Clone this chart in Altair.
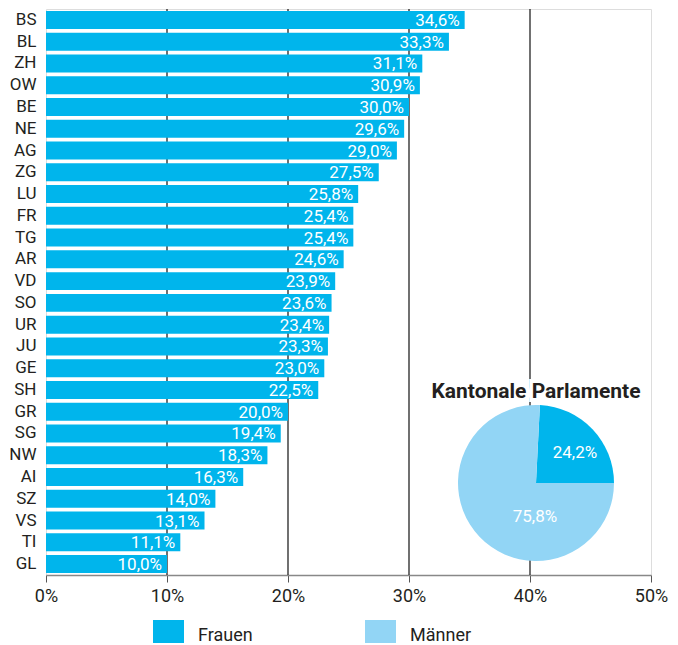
import math
import altair as alt
import pandas as pd

cantons = ["BS", "BL", "ZH", "OW", "BE", "NE", "AG", "ZG", "LU", "FR", "TG", "AR", "VD",
           "SO", "UR", "JU", "GE", "SH", "GR", "SG", "NW", "AI", "SZ", "VS", "TI", "GL"]
women_share = [34.6, 33.3, 31.1, 30.9, 30.0, 29.6, 29.0, 27.5, 25.8, 25.4, 25.4, 24.6, 23.9,
               23.6, 23.4, 23.3, 23.0, 22.5, 20.0, 19.4, 18.3, 16.3, 14.0, 13.1, 11.1, 10.0]
groups = ["Frauen", "Männer"]
pie_values = [24.2, 75.8]
x_ticks = [0, 10, 20, 30, 40, 50]
grid_ticks = [10, 20, 30, 40]
pie_title = "Kantonale Parlamente"

FONT = "Roboto"
DARK = "#00b5ec"
LIGHT = "#92d5f5"
INK = "#231f20"

bars_df = pd.DataFrame({"canton": cantons, "value": women_share, "g": "Frauen"})
pie_df = pd.DataFrame({"g": groups, "value": pie_values, "idx": [0, 1]})
grid_df = pd.DataFrame({"t": grid_ticks})
title_df = pd.DataFrame({"t": [pie_title]})

xscale = alt.Scale(domain=[0, 50], nice=False)
color = alt.Color("g:N", scale=alt.Scale(domain=groups, range=[DARK, LIGHT]),
                  legend=alt.Legend(title=None, orient="none", legendX=107, legendY=611,
                                    direction="horizontal", symbolType="square",
                                    symbolSize=961, symbolStrokeWidth=0, labelFontSize=18,
                                    labelColor=INK, labelOffset=14, columnPadding=112,
                                    labelFont=FONT))

grid = alt.Chart(grid_df).mark_rule(color="#111", strokeWidth=1.2).encode(
    x=alt.X("t:Q", scale=xscale)
)

ybase = alt.Y("canton:N", sort=cantons,
              scale=alt.Scale(paddingInner=0.175, paddingOuter=0.09),
              axis=alt.Axis(title=None, ticks=False, domain=False, labelFontSize=17,
                            labelColor=INK, labelPadding=10, labelFont=FONT))

bars = alt.Chart(bars_df).mark_bar().encode(
    x=alt.X("value:Q", scale=xscale,
            axis=alt.Axis(values=x_ticks, labelExpr="datum.value + '%'", grid=False,
                          tickSize=7, tickColor="#555", domainColor="#888", domainWidth=1.5,
                          labelFontSize=18, labelColor=INK, labelPadding=5, title=None,
                          labelFont=FONT, labelFlush=False)),
    y=ybase,
    color=color,
)

labels = alt.Chart(bars_df).transform_calculate(
    lab="replace(format(datum.value, '.1f'), '.', ',') + '%'"
).mark_text(align="right", baseline="middle", dx=-5, dy=1, color="white",
            fontSize=17, font=FONT).encode(
    x=alt.X("value:Q", scale=xscale),
    y=alt.Y("canton:N", sort=cantons),
    text="lab:N",
)

start = math.pi / 2 - 0.242 * 2 * math.pi
pie = alt.Chart(pie_df).mark_arc(outerRadius=78).encode(
    theta=alt.Theta("value:Q", stack=True,
                    scale=alt.Scale(range=[start, start + 2 * math.pi])),
    order=alt.Order("idx:Q"),
    color=color,
    x=alt.value(490),
    y=alt.value(474),
)

pie_f = alt.Chart(pie_df).transform_filter("datum.g == 'Frauen'").transform_calculate(
    lab="replace(format(datum.value, '.1f'), '.', ',') + '%'"
).mark_text(color="white", fontSize=17, font=FONT, baseline="middle").encode(
    text="lab:N", x=alt.value(529), y=alt.value(444)
)
pie_m = alt.Chart(pie_df).transform_filter("datum.g == 'Männer'").transform_calculate(
    lab="replace(format(datum.value, '.1f'), '.', ',') + '%'"
).mark_text(color="white", fontSize=17, font=FONT, baseline="middle").encode(
    text="lab:N", x=alt.value(489), y=alt.value(508)
)

title_halo = alt.Chart(title_df).mark_text(
    fontSize=21, fontWeight="bold", font=FONT, stroke="white", strokeWidth=8,
    color="white", baseline="middle"
).encode(text="t:N", x=alt.value(490), y=alt.value(383))
title_txt = alt.Chart(title_df).mark_text(
    fontSize=21, fontWeight="bold", font=FONT, color=INK, baseline="middle"
).encode(text="t:N", x=alt.value(490), y=alt.value(383))

chart = alt.layer(grid, bars, labels, title_halo, title_txt, pie, pie_f, pie_m).properties(
    width=605, height=566,
    autosize=alt.AutoSizeParams(type="none"),
    padding={"left": 38, "top": 1, "right": 18, "bottom": 68},
).configure_view(stroke="#888", strokeWidth=1.5).configure(font=FONT)

chart.save("out.html", embed_options={"renderer": "svg", "actions": False})
